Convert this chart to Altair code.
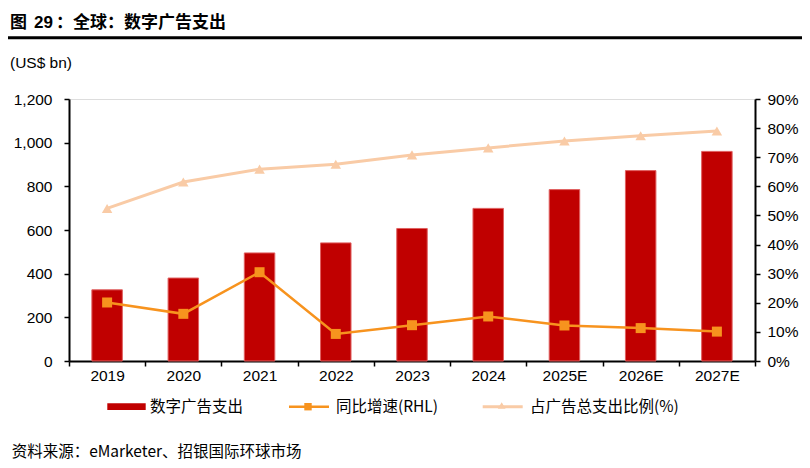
import altair as alt
import pandas as pd

years = ["2019", "2020", "2021", "2022", "2023", "2024", "2025E", "2026E", "2027E"]
spend = [326, 380, 495, 541, 607, 699, 785, 872, 960]
yoy = [0.201, 0.162, 0.305, 0.093, 0.123, 0.153, 0.122, 0.113, 0.101]
share = [0.524, 0.615, 0.659, 0.676, 0.708, 0.732, 0.756, 0.774, 0.790]

left_ticks = [0, 200, 400, 600, 800, 1000, 1200]
right_ticks = [0, 0.1, 0.2, 0.3, 0.4, 0.5, 0.6, 0.7, 0.8, 0.9]

title_parts = ["图", "29", "：全球：数字广告支出"]
unit_label = "(US$ bn)"
legend_labels = ["数字广告支出", "同比增速(RHL)", "占广告总支出比例(%)"]
source_text = "资料来源：eMarketer、招银国际环球市场"

BAR = "#C00000"
ORANGE = "#F7931E"
PEACH = "#F9CBA6"
LAT = "Liberation Sans, Arial, Noto Sans CJK SC, sans-serif"
CJK = "Noto Sans CJK SC, Liberation Sans, sans-serif"

df = pd.DataFrame({"year": years, "spend": spend, "yoy": yoy, "share": share})

x_enc = alt.X(
    "year:N", sort=years, title=None,
    scale=alt.Scale(paddingInner=0, paddingOuter=0),
    axis=alt.Axis(labelAngle=0, tickBand="extent", domainColor="black", domainWidth=2,
                  tickColor="black", tickWidth=1.5, tickSize=5, labelFont=LAT,
                  labelFontSize=15.5, labelColor="black", labelPadding=2),
)

bars = alt.Chart(df).mark_bar(
    color=BAR, stroke="#E06060", strokeWidth=1, width=alt.RelativeBandSize(0.4)
).encode(
    x=x_enc,
    y=alt.Y("spend:Q", title=None, scale=alt.Scale(domain=[0, 1200], nice=False),
            axis=alt.Axis(orient="left", values=left_ticks, format=",d", grid=False,
                          domainColor="black", domainWidth=2, tickColor="black",
                          tickWidth=1.5, tickSize=5, labelFont=LAT, labelFontSize=15.5,
                          labelColor="black", labelPadding=12)),
)

right_axis = alt.Axis(orient="right", values=right_ticks, format=".0%", grid=False,
                      domainColor="black", domainWidth=2, tickColor="black",
                      tickWidth=1.5, tickSize=5, labelFont=LAT, labelFontSize=15.5,
                      labelColor="black", labelPadding=7)
right_scale = alt.Scale(domain=[0, 0.9], nice=False)


def ry(field):
    return alt.Y(f"{field}:Q", title=None, scale=right_scale, axis=right_axis)


base = alt.Chart(df).encode(x=alt.X("year:N", sort=years))
share_line = base.mark_line(color=PEACH, strokeWidth=3).encode(y=ry("share"))
share_pts = base.mark_point(shape="triangle-up", filled=True, size=110, color=PEACH,
                            opacity=1).encode(y=ry("share"))
yoy_line = base.mark_line(color=ORANGE, strokeWidth=2.5).encode(y=ry("yoy"))
yoy_pts = base.mark_point(shape="square", filled=True, size=100, color=ORANGE,
                          opacity=1).encode(y=ry("yoy"))
right = alt.layer(share_line, share_pts, yoy_line, yoy_pts)

one = alt.Data(values=[{}])


def txt(s, x, y, size=15.5, font=CJK, weight="normal", baseline="middle"):
    return alt.Chart(one).mark_text(
        align="left", baseline=baseline, font=font, fontSize=size,
        fontWeight=weight, color="black"
    ).encode(x=alt.value(x), y=alt.value(y), text=alt.value(s))


annos = [
    txt(title_parts[0], -59, -71, size=17, weight="bold", baseline="alphabetic"),
    txt(title_parts[1], -35, -71, size=17, font=LAT, weight="bold", baseline="alphabetic"),
    txt(title_parts[2], -13, -71, size=17, weight="bold", baseline="alphabetic"),
    alt.Chart(one).mark_rule(color="black", strokeWidth=3).encode(
        x=alt.value(-61), x2=alt.value(733), y=alt.value(-61.3)),
    txt(unit_label, -59, -36.5, size=15.5, font=LAT),
    # legend
    alt.Chart(one).mark_rect(color=BAR).encode(
        x=alt.value(38.3), x2=alt.value(76.7), y=alt.value(304.3), y2=alt.value(311)),
    txt(legend_labels[0], 81, 307.7),
    alt.Chart(one).mark_rule(color=ORANGE, strokeWidth=2.5).encode(
        x=alt.value(220), x2=alt.value(260), y=alt.value(307.7)),
    alt.Chart(one).mark_point(shape="square", filled=True, size=55, color=ORANGE,
                              opacity=1).encode(x=alt.value(239), y=alt.value(307.7)),
    txt(legend_labels[1], 267, 307.7),
    alt.Chart(one).mark_rule(color=PEACH, strokeWidth=3).encode(
        x=alt.value(413.7), x2=alt.value(453.7), y=alt.value(307.7)),
    alt.Chart(one).mark_point(shape="triangle-up", filled=True, size=60, color=PEACH,
                              opacity=1).encode(x=alt.value(432.7), y=alt.value(306.5)),
    txt(legend_labels[2], 461, 307.7),
    txt(source_text, -57.3, 352.7, size=15.5),
]

chart = alt.layer(bars, right, *annos).resolve_scale(y="independent").properties(
    width=686, height=262,
    autosize=alt.AutoSizeParams(type="none"),
    padding={"left": 61, "top": 91, "right": 47, "bottom": 99},
).configure_view(stroke=None).configure(background="white")

chart.save("out.html", embed_options={"renderer": "svg", "actions": False})
